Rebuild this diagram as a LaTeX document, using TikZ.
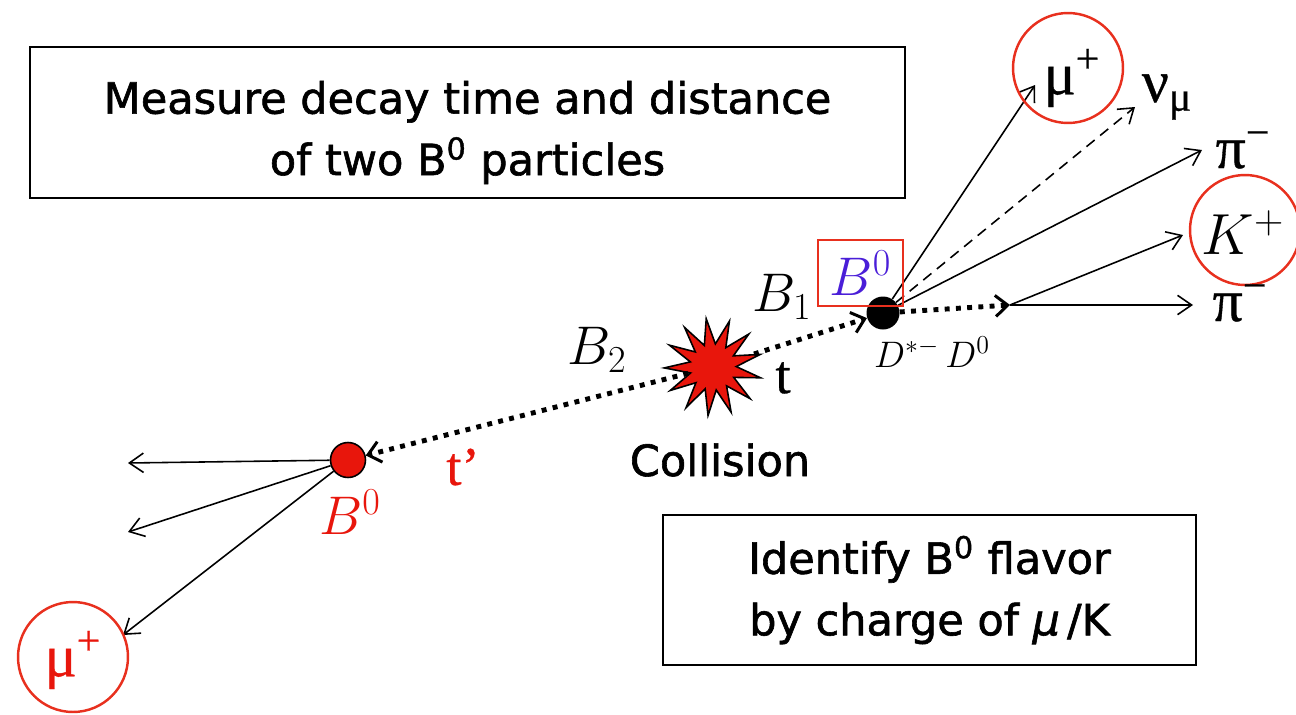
\documentclass[tikz,border=0pt]{standalone}
\usepackage{fix-cm}
\usepackage{fontspec}
\newfontfamily\sansf[FakeBold=1.4]{DejaVu Sans}
\newfontfamily\grk[FakeBold=0.6]{Liberation Serif}
\usetikzlibrary{arrows.meta,shapes.geometric}
\definecolor{pred}{HTML}{E8160C}
\definecolor{cred}{HTML}{E8301E}
\definecolor{bblue}{HTML}{4A1ED8}
\tikzset{
  box/.style={draw, line width=1.3pt, font=\sansf\fontsize{24.5}{35}\selectfont, align=center, inner sep=0pt},
  trk/.style={line width=0.9pt, -{Straight Barb[length=8pt,width=11pt,line width=0.9pt]}},
  dotline/.style={line width=2.8pt, dash pattern=on 2.8pt off 3.6pt, -{Straight Barb[length=7pt,width=12pt,line width=1.7pt]}},
  ring/.style={circle, draw=cred, line width=1.4pt, minimum size=2.2cm, inner sep=0pt},
  lab/.style={inner sep=0pt},
  grklab/.style={lab, font=\grk\fontsize{34}{40}\selectfont},
  mathlab/.style={lab, font=\fontsize{31}{36}\selectfont},
}
\begin{document}
\begin{tikzpicture}[x=0.02cm,y=-0.02cm]
\useasboundingbox (0,0) rectangle (1296,714);

% text boxes
\node[box, minimum width=17.5cm, minimum height=3.02cm] (mbox) at (467.5,122.5)
  {\rule{0pt}{30pt}Measure decay time and distance\\of two B\textsuperscript{0} particles};
\node[box, minimum width=10.66cm, minimum height=3cm] (ibox) at (929.5,590)
  {Identify B\textsuperscript{0} flavor\\by charge of \textit{μ}\,/K};

% vertices
\node[star, star points=13, star point ratio=2.1, minimum size=1.95cm, fill=pred, draw=black, line width=0.9pt, inner sep=0pt, rotate=8] (coll) at (713,367) {};
\node[lab, font=\sansf\fontsize{24.5}{30}\selectfont] (colltxt) at (720,460) {Collision};
\node[circle, fill=black, minimum size=0.66cm, inner sep=0pt] (b1) at (883,313) {};
\node[circle, fill=pred, draw=black, line width=0.9pt, minimum size=0.7cm, inner sep=0pt] (b2) at (348,460) {};

% end points
\coordinate (sp) at (1010,305);
\coordinate (tmu) at (1035,85);
\coordinate (tnu) at (1135,107);
\coordinate (tpia) at (1202,150);
\coordinate (tK) at (1183,235);
\coordinate (tpib) at (1193,305);
\coordinate (la) at (128,463);
\coordinate (lb) at (128,532);
\coordinate (lc) at (123,635);

% tracks
\draw[dotline] (coll) -- (b1);
\draw[dotline] (coll) -- (b2);
\draw[dotline] (b1) -- (sp);
\draw[trk] (b1) -- (tmu);
\draw[trk, dash pattern=on 6pt off 4pt] (b1) -- (tnu);
\draw[trk] (b1) -- (tpia);
\draw[trk] (sp) -- (tK);
\draw[trk] (sp) -- (tpib);
\draw[trk] (b2) -- (la);
\draw[trk] (b2) -- (lb);
\draw[trk] (b2) -- (lc);

% labels
\node[grklab] (mua) at (1072,78) {μ\textsuperscript{+}};
\node[ring] (rmua) at (1068,68) {};
\node[grklab] (nu) at (1167,97) {ν\textsubscript{μ}};
\node[grklab] (pia) at (1243,150) {π\textsuperscript{−}};
\node[lab, font=\fontsize{33}{38}\selectfont] (K) at (1243,233) {$K^+$};
\node[ring] (rK) at (1245,230) {};
\node[grklab] (pib) at (1240,303) {π\textsuperscript{−}};
\node[mathlab, text=bblue, draw=cred, line width=1.3pt, minimum width=1.7cm, minimum height=1.32cm] (b0a) at (860.5,273) {$B^0$};
\node[mathlab] (lb1) at (782,297) {$B_1$};
\node[mathlab] (lb2) at (597,350) {$B_2$};
\node[lab, font=\grk\fontsize{31}{36}\selectfont] (t) at (783,378) {t};
\node[lab, font=\fontsize{21}{26}\selectfont] (dd) at (932,352) {$D^{*-}\,D^0$};
\node[lab, font=\grk\fontsize{31}{36}\selectfont, text=pred] (tp) at (463,467) {t’};
\node[mathlab, text=pred] (b0b) at (350,512) {$B^0$};
\node[grklab, text=pred] (mub) at (73,660) {μ\textsuperscript{+}};
\node[ring] (rmub) at (73,657) {};
\end{tikzpicture}
\end{document}
